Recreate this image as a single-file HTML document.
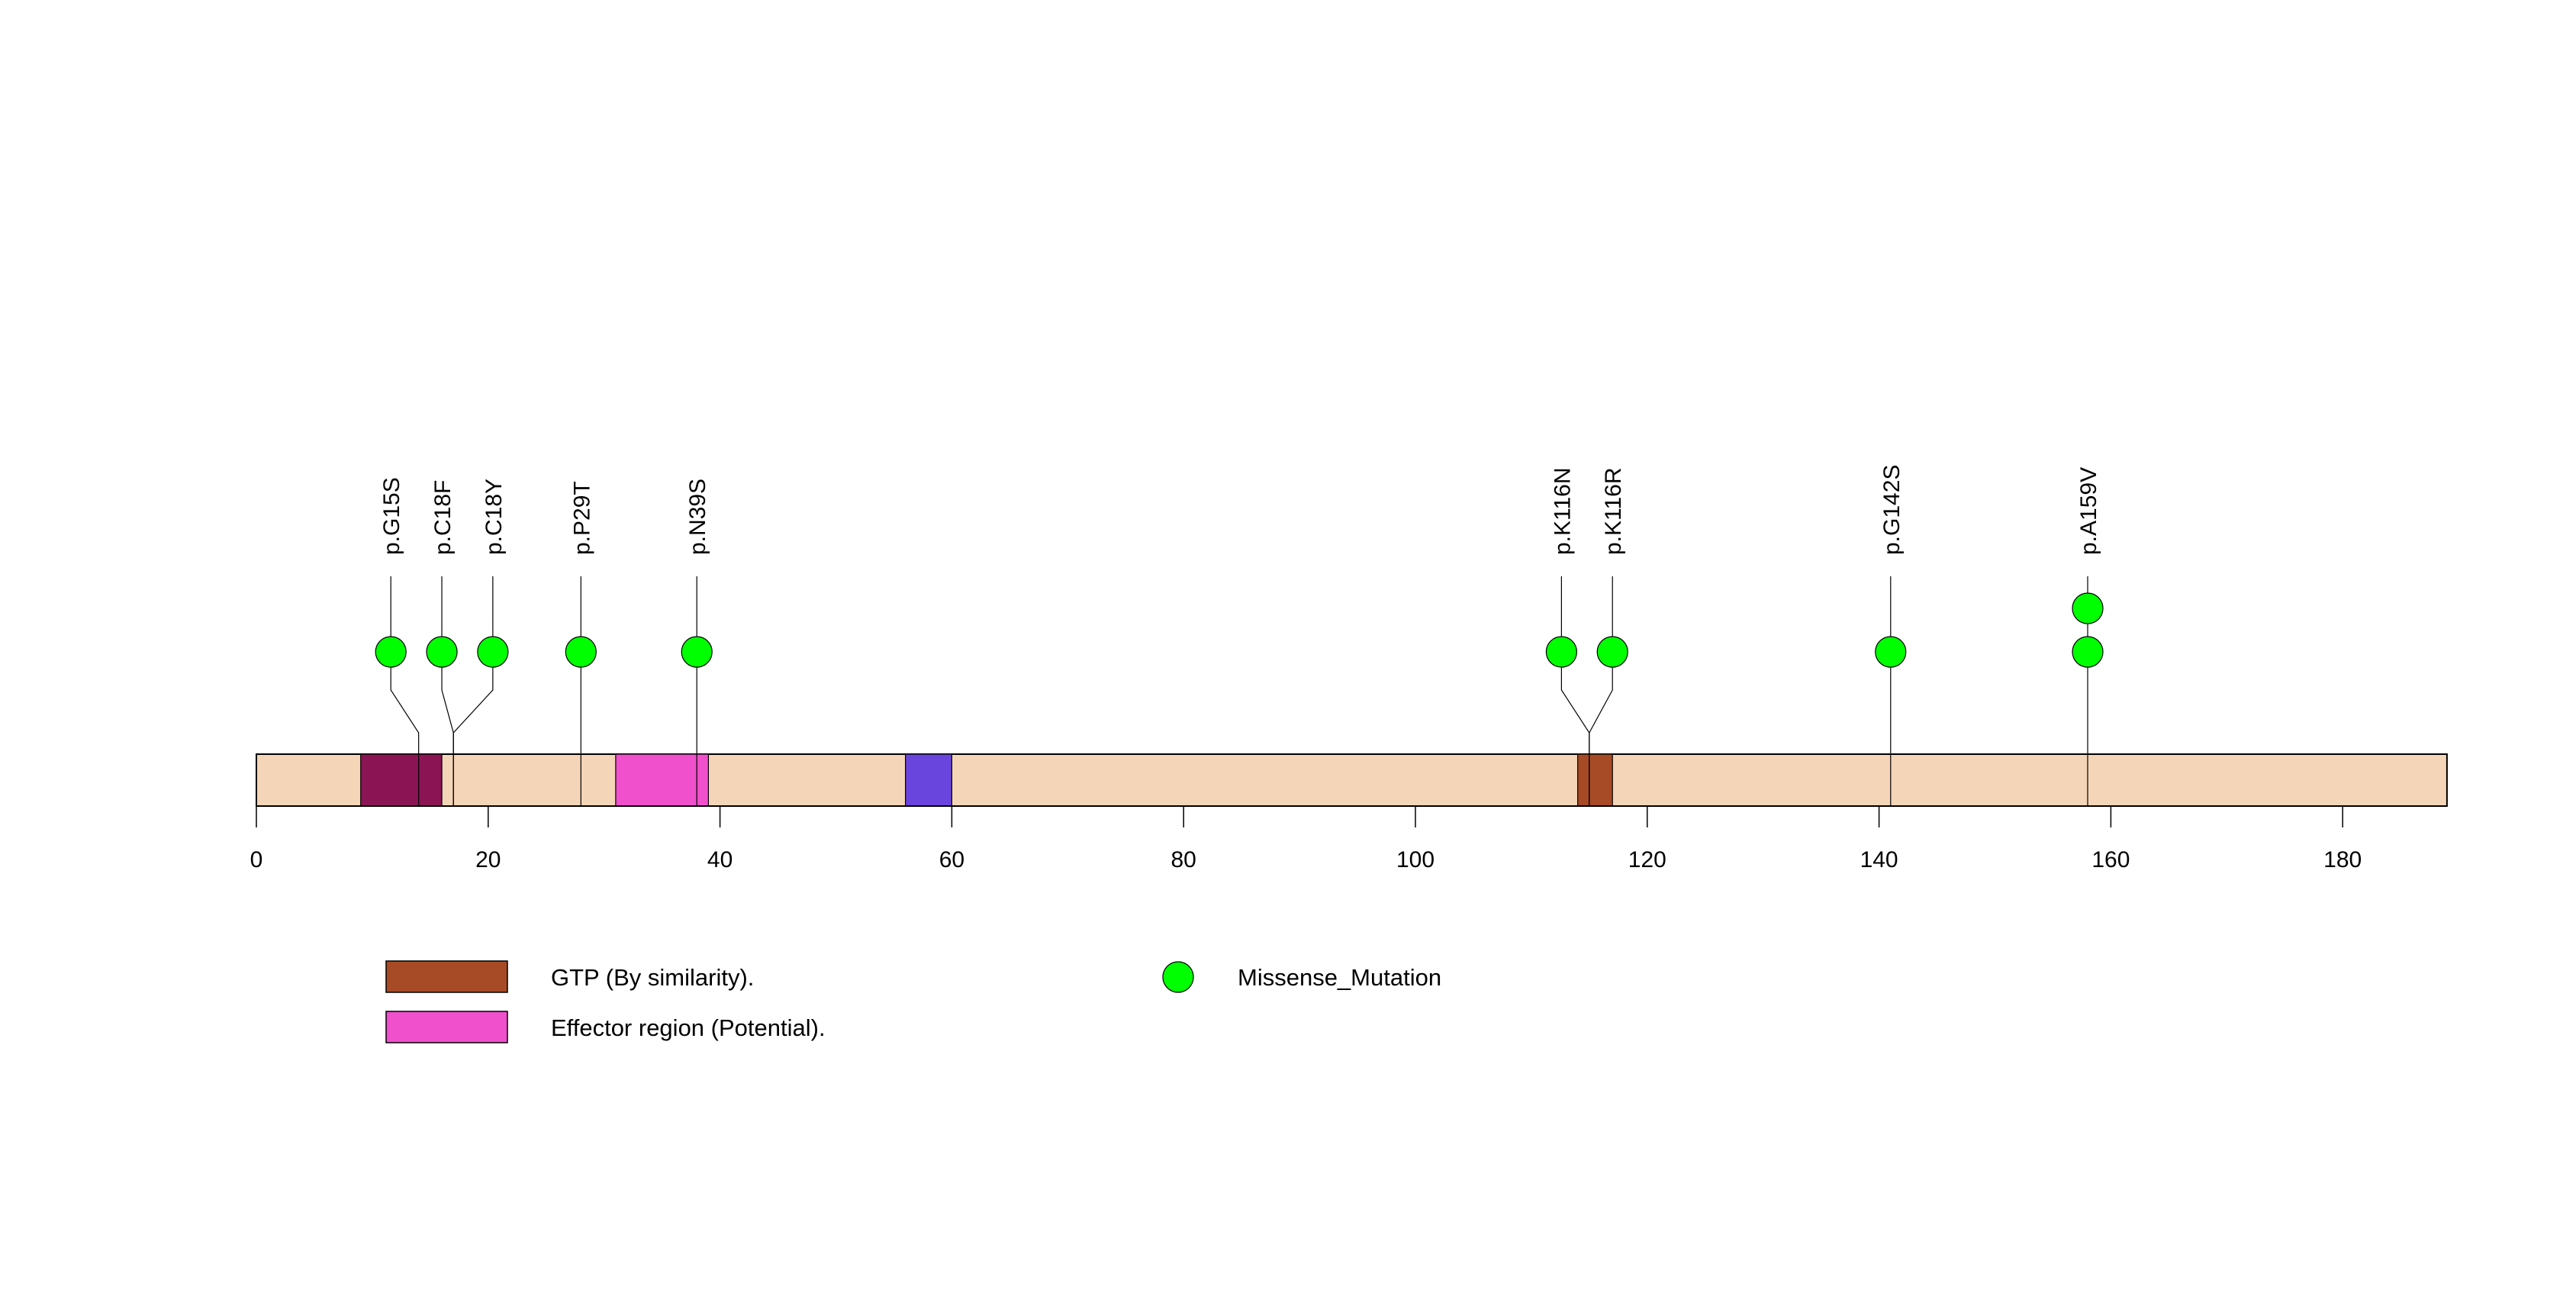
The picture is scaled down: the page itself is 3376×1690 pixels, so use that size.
<!DOCTYPE html>
<html><head><meta charset="utf-8"><style>
html,body{margin:0;padding:0;background:#fff;}
svg{display:block;font-family:"Liberation Sans",sans-serif;}
</style></head><body>
<div style="position:relative;width:3376px;height:1690px;">
<svg id="chart" width="3376" height="1690" viewBox="0 0 3376 1690" xmlns="http://www.w3.org/2000/svg" style="position:absolute;left:0;top:0">
<g id="g"></g>
</svg>
<svg width="3376" height="1690" style="position:absolute;left:0;top:0">
<rect x="506" y="1259" width="159" height="41" fill="#A64B25" stroke="#000" stroke-width="1.5"/>
<text x="722" y="1291" font-size="31" font-family="Liberation Sans, sans-serif">GTP (By similarity).</text>
<rect x="506" y="1325" width="159" height="41" fill="#F050CC" stroke="#000" stroke-width="1.5"/>
<text x="722" y="1357" font-size="31" font-family="Liberation Sans, sans-serif">Effector region (Potential).</text>
<circle cx="1544" cy="1280" r="20" fill="#00FF00" stroke="#000" stroke-width="1.2"/>
<text x="1622" y="1291" font-size="31" font-family="Liberation Sans, sans-serif">Missense_Mutation</text>
</svg>
</div>
<script>
const proteinLength = 189;
const tickValues = [0,20,40,60,80,100,120,140,160,180];
const domainStarts = [9,31,56,114];
const domainEnds = [16,39,60,117];
const domainColors = ["#8B1454","#F050CC","#6A45DD","#A64B25"];
const domainNames = ["domain-9-16","effector-region","domain-56-60","gtp-binding"];
const mutLabels = ["p.G15S","p.C18F","p.C18Y","p.P29T","p.N39S","p.K116N","p.K116R","p.G142S","p.A159V"];
const mutSites = [14,17,17,28,38,115,115,141,158];
const mutLabelPos = [11.6,16,20.4,28,38,112.6,117,141,158];
const mutCounts = [1,1,1,1,1,1,1,1,2];

const NS="http://www.w3.org/2000/svg";
const g=document.getElementById('g');
const x0=336, pxPerUnit=15.19;
const X=v=>x0+v*pxPerUnit;
const barTop=988, barBot=1056;
function mk(tag,attrs,parent){const e=document.createElementNS(NS,tag);for(const k in attrs)e.setAttribute(k,attrs[k]);(parent||g).appendChild(e);return e;}

let bb=mk('rect',{x:X(0),y:barTop,width:X(proteinLength)-X(0),height:barBot-barTop,fill:"#F5D5B8",stroke:"#000","stroke-width":2});


for(let i=0;i<domainStarts.length;i++){
  const r=mk('rect',{x:X(domainStarts[i]),y:barTop,width:X(domainEnds[i])-X(domainStarts[i]),height:barBot-barTop,fill:domainColors[i],stroke:"#000","stroke-width":1.2});
  
  
}
let ax=mk('line',{x1:X(0),x2:X(proteinLength),y1:barBot,y2:barBot,stroke:"#000","stroke-width":2});


tickValues.forEach(t=>{
  const l=mk('line',{x1:X(t),x2:X(t),y1:barBot,y2:1084,stroke:"#000","stroke-width":1.5});
  
  
  const tx=mk('text',{x:X(t),y:1136,"font-size":30,"text-anchor":"middle",fill:"#000"});
  tx.textContent=t;
  
  
});
const circY=854, circStep=57, elbowY=904, convY=960, lineTop=755;
for(let i=0;i<mutLabels.length;i++){
  const lx=X(mutLabelPos[i]), sx=X(mutSites[i]);
  const p=mk('polyline',{points:`${sx},${barBot} ${sx},${convY} ${lx},${elbowY} ${lx},${lineTop}`,fill:"none",stroke:"#000","stroke-width":1.2});
  
  
  for(let c=0;c<mutCounts[i];c++){
    const ci=mk('circle',{cx:lx,cy:circY-c*circStep,r:20,fill:"#00FF00",stroke:"#000","stroke-width":1.2});
    
    
  }
  const t=mk('text',{x:0,y:0,"font-size":30,fill:"#000",transform:`translate(${lx+11},727) rotate(-90)`});
  t.textContent=mutLabels[i];
  
  
}
</script>
</body></html>
